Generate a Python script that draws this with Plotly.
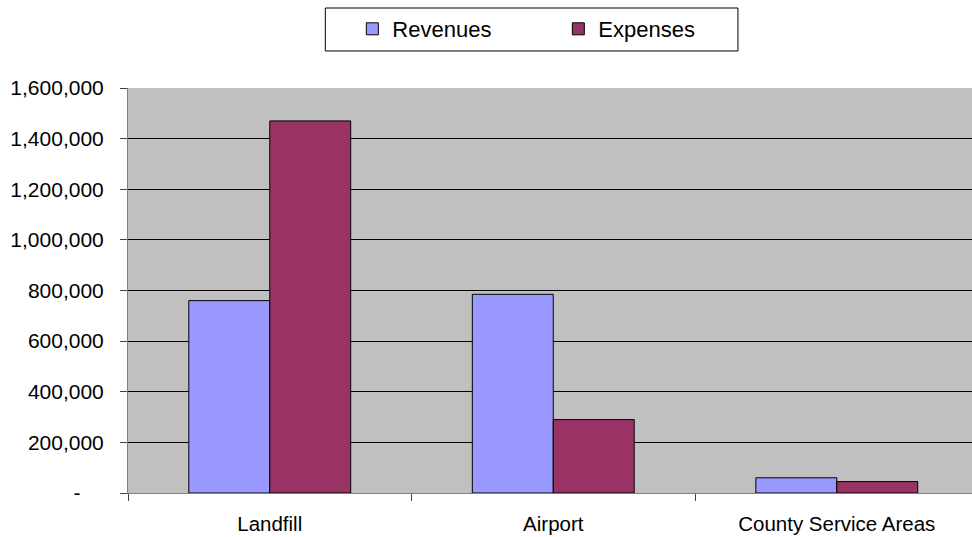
import plotly.graph_objects as go

# Fund categories and annual amounts
categories = ["Landfill", "Airport", "County Service Areas"]
revenues = [760000, 785000, 60000]
expenses = [1470000, 290000, 45000]

# Y-axis ticks in accounting style (zero shown as a dash)
y_tickvals = [0, 200000, 400000, 600000, 800000, 1000000, 1200000, 1400000, 1600000]
y_ticktext = ["-\u00a0\u00a0\u00a0\u00a0", "200,000", "400,000", "600,000", "800,000",
              "1,000,000", "1,200,000", "1,400,000", "1,600,000"]

FONT = "Liberation Sans, Arial, sans-serif"

fig = go.Figure()
fig.add_trace(go.Bar(
    name="Revenues", x=categories, y=revenues,
    marker=dict(color="#9999FF", line=dict(color="#000000", width=1)),
))
fig.add_trace(go.Bar(
    name="Expenses", x=categories, y=expenses,
    marker=dict(color="#993366", line=dict(color="#000000", width=1)),
))

fig.update_layout(
    width=972, height=537,
    margin=dict(l=128, r=0, t=88, b=44),
    paper_bgcolor="#FFFFFF",
    plot_bgcolor="#C0C0C0",
    barmode="group",
    bargap=0.429,
    bargroupgap=0,
    font=dict(family=FONT, size=20, color="#000000"),
    showlegend=True,
    legend=dict(
        orientation="h",
        x=0.2658, xanchor="left",
        y=1.1975, yanchor="top",
        bgcolor="rgba(0,0,0,0)",
        borderwidth=0,
        font=dict(family=FONT, size=22, color="#000000"),
        entrywidth=161,
        traceorder="normal",
    ),
    shapes=[dict(
        type="rect", xref="paper", yref="paper",
        x0=0.2338, x1=0.7227, y0=1.0914, y1=1.1975,
        line=dict(color="#000000", width=1),
        fillcolor="rgba(0,0,0,0)", layer="below",
    )],
)

fig.update_xaxes(
    type="category",
    range=[-0.5, 2.477],
    tickson="boundaries",
    ticks="outside", ticklen=7, tickcolor="#404040",
    showgrid=False,
    showline=True, linecolor="#808080", linewidth=1,
    tickfont=dict(family=FONT, size=20.5),
    ticklabelstandoff=12,
    zeroline=False,
)
fig.update_yaxes(
    range=[0, 1600000],
    tickvals=y_tickvals, ticktext=y_ticktext,
    ticks="outside", ticklen=7, tickcolor="#404040",
    showgrid=True, gridcolor="#000000", gridwidth=1,
    showline=True, linecolor="#808080", linewidth=1,
    tickfont=dict(family=FONT, size=21),
    ticklabelstandoff=12,
    zeroline=False,
)

fig.write_html("out.html")
